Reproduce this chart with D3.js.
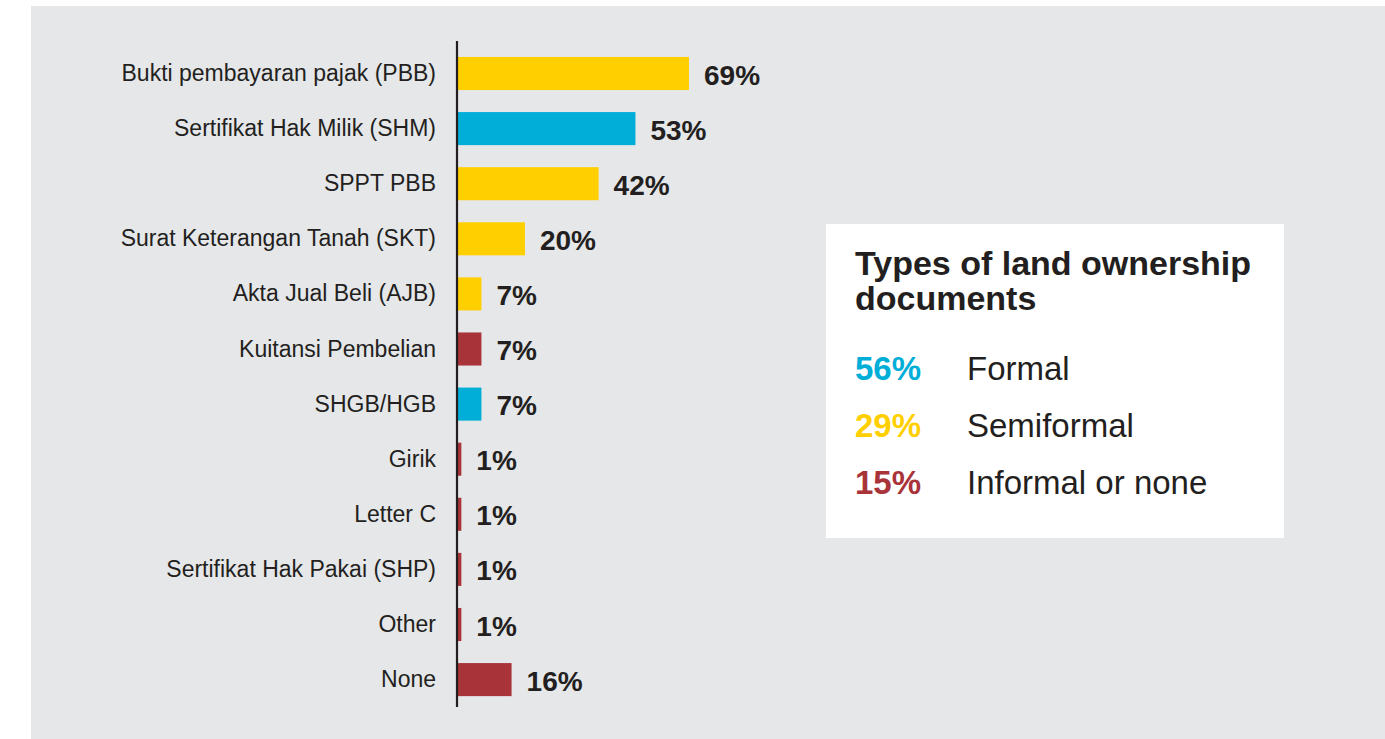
<!DOCTYPE html>
<html>
<head>
<meta charset="utf-8">
<script src="https://cdn.jsdelivr.net/npm/d3@7"></script>
<style>
  body { margin: 0; background: #fff; }
  svg text { font-family: "Liberation Sans", Arial, Helvetica, sans-serif; }
</style>
</head>
<body>
<div id="viz"></div>
<script>
const width = 1385;
const height = 739;

const categories = [
  'Bukti pembayaran pajak (PBB)', 'Sertifikat Hak Milik (SHM)', 'SPPT PBB',
  'Surat Keterangan Tanah (SKT)', 'Akta Jual Beli (AJB)', 'Kuitansi Pembelian',
  'SHGB/HGB', 'Girik', 'Letter C', 'Sertifikat Hak Pakai (SHP)', 'Other', 'None'
];
const values = [69, 53, 42, 20, 7, 7, 7, 1, 1, 1, 1, 16];
const types = ['semi', 'formal', 'semi', 'semi', 'semi', 'informal', 'formal',
  'informal', 'informal', 'informal', 'informal', 'informal'];

const legendKeys = ['formal', 'semi', 'informal'];
const legendShares = ['56%', '29%', '15%'];
const legendLabels = ['Formal', 'Semiformal', 'Informal or none'];

const color = d3.scaleOrdinal()
  .domain(['formal', 'semi', 'informal'])
  .range(['#00aed8', '#ffcf00', '#a8343a']);

const data = categories.map((c, i) => ({ cat: c, value: values[i], type: types[i] }));

const svg = d3.select('#viz').append('svg')
  .attr('width', width)
  .attr('height', height);

// grey panel
svg.append('rect')
  .attr('x', 31).attr('y', 6)
  .attr('width', width - 31).attr('height', height - 6)
  .attr('fill', '#e6e7e9');

const y = d3.scaleBand()
  .domain(categories)
  .range([45.95, 707.15])
  .paddingInner(0.4)
  .paddingOuter(0.2);

const x = d3.scaleLinear()
  .domain([0, 69])
  .range([458, 689]);

// bars
svg.append('g').selectAll('rect')
  .data(data)
  .join('rect')
    .attr('x', x(0))
    .attr('y', d => y(d.cat))
    .attr('width', d => x(d.value) - x(0))
    .attr('height', y.bandwidth())
    .attr('fill', d => color(d.type));

// axis line
svg.append('line')
  .attr('x1', 457).attr('x2', 457)
  .attr('y1', 41).attr('y2', 707)
  .attr('stroke', '#231f20')
  .attr('stroke-width', 2.2);

// category labels
svg.append('g').selectAll('text')
  .data(data)
  .join('text')
    .attr('x', 436)
    .attr('y', d => y(d.cat) + y.bandwidth() / 2 + 7.5)
    .attr('text-anchor', 'end')
    .attr('font-size', 23)
    .attr('fill', '#231f20')
    .text(d => d.cat);

// value labels
svg.append('g').selectAll('text')
  .data(data)
  .join('text')
    .attr('x', d => x(d.value) + 15)
    .attr('y', d => y(d.cat) + y.bandwidth() / 2 + 11)
    .attr('font-size', 28)
    .attr('font-weight', 'bold')
    .attr('fill', '#231f20')
    .text(d => d.value + '%');

// legend box
const leg = svg.append('g');
leg.append('rect')
  .attr('x', 826).attr('y', 224)
  .attr('width', 458).attr('height', 314)
  .attr('fill', '#ffffff');

leg.append('text')
  .attr('x', 855).attr('y', 275)
  .attr('font-size', 34)
  .attr('font-weight', 'bold')
  .attr('fill', '#231f20')
  .text('Types of land ownership');
leg.append('text')
  .attr('x', 855).attr('y', 310)
  .attr('font-size', 34)
  .attr('font-weight', 'bold')
  .attr('fill', '#231f20')
  .text('documents');

leg.selectAll('.share')
  .data(legendKeys)
  .join('text')
    .attr('class', 'share')
    .attr('x', 855)
    .attr('y', (d, i) => 380 + i * 57)
    .attr('font-size', 33)
    .attr('font-weight', 'bold')
    .attr('fill', d => color(d))
    .text((d, i) => legendShares[i]);

leg.selectAll('.lab')
  .data(legendKeys)
  .join('text')
    .attr('class', 'lab')
    .attr('x', 967)
    .attr('y', (d, i) => 380 + i * 57)
    .attr('font-size', 33)
    .attr('fill', '#231f20')
    .text((d, i) => legendLabels[i]);
</script>
</body>
</html>
